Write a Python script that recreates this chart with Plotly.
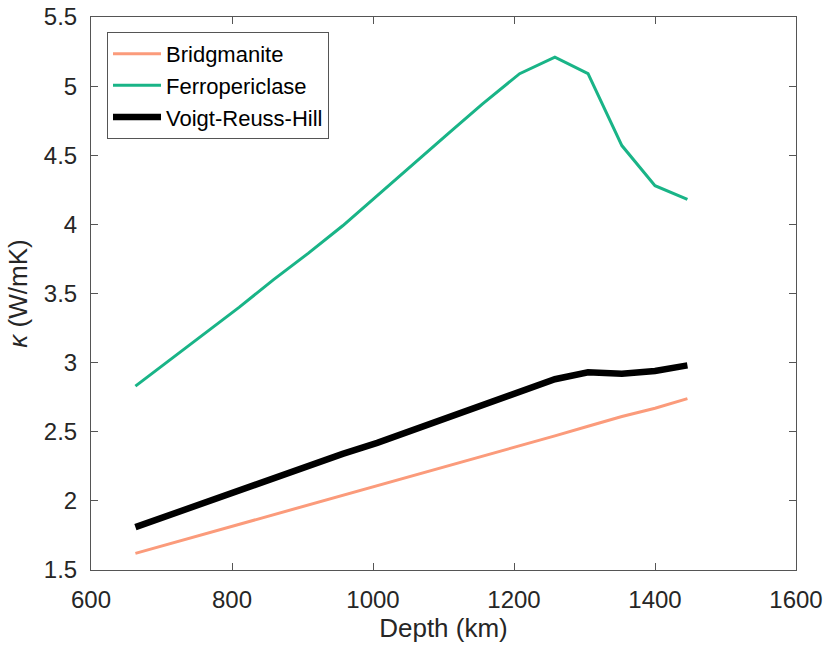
import plotly.graph_objects as go

depth_km = [663, 712, 761, 810, 859, 908, 957, 1006, 1056, 1105, 1155, 1208, 1258, 1305, 1353, 1400, 1446]
bridgmanite = [1.62, 1.69, 1.76, 1.83, 1.90, 1.97, 2.04, 2.11, 2.18, 2.25, 2.32, 2.40, 2.47, 2.54, 2.61, 2.67, 2.74]
ferropericlase = [2.83, 3.02, 3.21, 3.40, 3.60, 3.79, 3.99, 4.21, 4.43, 4.65, 4.87, 5.09, 5.21, 5.09, 4.57, 4.28, 4.18]
vrh = [1.81, 1.90, 1.98, 2.07, 2.16, 2.25, 2.34, 2.42, 2.51, 2.60, 2.69, 2.79, 2.88, 2.93, 2.92, 2.94, 2.98]

x_ticks = [600, 800, 1000, 1200, 1400, 1600]
y_ticks = [1.5, 2, 2.5, 3, 3.5, 4, 4.5, 5, 5.5]
y_tick_text = ["1.5", "2", "2.5", "3", "3.5", "4", "4.5", "5", "5.5"]

FONT = "Liberation Sans, Arial, Helvetica, sans-serif"
AX = "#555555"

fig = go.Figure()
fig.add_trace(go.Scatter(x=depth_km, y=bridgmanite, mode="lines", name="Bridgmanite",
                         line=dict(color="#fb9b7b", width=3)))
fig.add_trace(go.Scatter(x=depth_km, y=ferropericlase, mode="lines", name="Ferropericlase",
                         line=dict(color="#19b487", width=3)))
fig.add_trace(go.Scatter(x=depth_km, y=vrh, mode="lines", name="Voigt-Reuss-Hill",
                         line=dict(color="#000000", width=6.5)))

axis_common = dict(showgrid=False, zeroline=False, showline=True, linecolor=AX, linewidth=1,
                   mirror="ticks", ticks="inside", ticklen=7, tickcolor=AX, tickwidth=1,
                   automargin=False,
                   tickfont=dict(family=FONT, size=24, color="#262626"))

fig.update_layout(
    width=829, height=653,
    margin=dict(l=91, r=33, t=17, b=83),
    paper_bgcolor="white", plot_bgcolor="white",
    font=dict(family=FONT, color="#262626"),
    xaxis=dict(range=[600, 1600], tickvals=x_ticks, ticklabelstandoff=8,
               title=dict(text="Depth (km)", font=dict(family=FONT, size=26), standoff=4),
               **axis_common),
    yaxis=dict(range=[1.5, 5.5], tickvals=y_ticks, ticktext=y_tick_text, ticklabelstandoff=8,
               title=dict(text="<i>κ</i> (W/mK)", font=dict(family=FONT, size=26), standoff=8),
               **axis_common),
    legend=dict(x=0.0227, y=0.973, xanchor="left", yanchor="top",
                bgcolor="white", bordercolor=AX, borderwidth=1,
                font=dict(family=FONT, size=22, color="#000000"),
                tracegroupgap=0, itemwidth=48),
    showlegend=True,
)

fig.write_html("out.html")
